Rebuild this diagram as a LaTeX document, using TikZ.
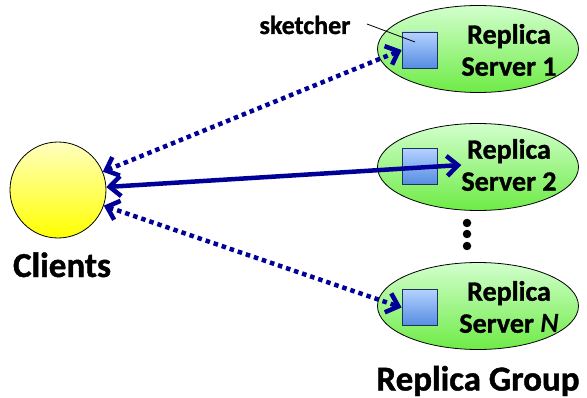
\documentclass[tikz,border=0pt]{standalone}
\usepackage{fontspec}
\setmainfont{Carlito}[BoldFeatures={FakeBold=1.2}]
\usetikzlibrary{shapes.geometric,arrows.meta,shadings}
\definecolor{navyarrow}{HTML}{000099}
\tikzset{
  x=1pt,y=1pt,
  clientnode/.style={circle,draw=black,line width=0.8pt,minimum size=96pt,inner sep=0pt,
    top color=yellow!25!white,bottom color=yellow},
  servernode/.style={ellipse,draw=black,line width=0.8pt,minimum width=201pt,minimum height=87pt,inner sep=0pt,
    top color={rgb,255:red,210;green,255;blue,205},bottom color={rgb,255:red,110;green,235;blue,70}},
  sketchbox/.style={rectangle,draw={rgb,255:red,30;green,50;blue,90},line width=0.8pt,minimum width=35pt,minimum height=36pt,inner sep=0pt,
    top color={rgb,255:red,180;green,210;blue,255},bottom color={rgb,255:red,85;green,140;blue,225}},
  servertext/.style={align=center,inner sep=0pt,font=\fontsize{28}{32}\selectfont\bfseries},
  bigtext/.style={inner sep=0pt,anchor=base,font=\fontsize{35}{40}\selectfont\bfseries},
  labeltext/.style={inner sep=0pt,anchor=base,font=\fontsize{26}{30}\selectfont\bfseries},
  tip/.tip={Straight Barb[length=11pt,width=20pt]},
  dotarrow/.style={draw=navyarrow,line width=4.5pt,dash pattern=on 4.5pt off 4pt,tip-tip},
  solidarrow/.style={draw=navyarrow,line width=4.5pt,tip-tip},
  vdot/.style={circle,fill=black,inner sep=0pt,minimum size=8.5pt}
}
\begin{document}
\begin{tikzpicture}
\useasboundingbox (0,0) rectangle (587,397);
% clients
\node[clientnode] (clients) at (58,207) {};
\node[bigtext] (clab) at (62,120) {Clients};
% servers
\node[servernode] (s1) at (478,348) {};
\node[servernode] (s2) at (478,230) {};
\node[servernode] (sN) at (478,91) {};
\node[sketchbox] (q1) at (419.5,347) {};
\node[sketchbox] (q2) at (419.5,230.5) {};
\node[sketchbox] (qN) at (419.5,89.5) {};
\node[servertext] (t1) at (509,347) {Replica\\Server 1};
\node[servertext] (t2) at (509,232) {Replica\\Server 2};
\node[servertext] (tN) at (509,90) {Replica\\Server \textit{N}};
% dots
\node[vdot] (d1) at (467,174) {};
\node[vdot] (d2) at (467,163) {};
\node[vdot] (d3) at (467,151) {};
% group label
\node[bigtext] (grp) at (478,6.5) {Replica Group};
% sketcher label
\node[labeltext] (sk) at (305,363) {sketcher};
\coordinate (skA) at (367,373);
\coordinate (skB) at (415,355);
\draw[line width=0.8pt] (skA) -- (skB);
% arrows
\draw[dotarrow] (clients) -- (q1.west);
\draw[solidarrow] (clients) -- (t2.west);
\draw[dotarrow] (clients) -- (qN.west);
\end{tikzpicture}
\end{document}
